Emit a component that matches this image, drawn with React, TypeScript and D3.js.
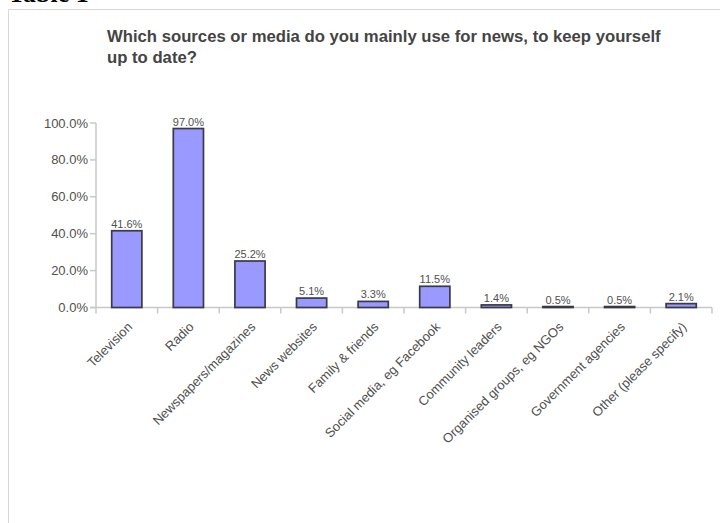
import React from "react";
import * as d3 from "d3";

const categories = [
  "Television",
  "Radio",
  "Newspapers/magazines",
  "News websites",
  "Family & friends",
  "Social media, eg Facebook",
  "Community leaders",
  "Organised groups, eg NGOs",
  "Government agencies",
  "Other (please specify)",
];
const values = [41.6, 97.0, 25.2, 5.1, 3.3, 11.5, 1.4, 0.5, 0.5, 2.1];
const yTicks = [0, 20, 40, 60, 80, 100];
const titleLines = [
  "Which sources or media do you mainly use for news, to keep yourself",
  "up to date?",
];

const W = 720;
const H = 523;
const left = 96;
const right = 712;
const top = 123;
const bottom = 307.5;

export default function App() {
  const x = d3.scaleBand<string>().domain(categories).range([left, right]).paddingInner(0).paddingOuter(0);
  const y = d3.scaleLinear().domain([0, 100]).range([bottom, top]);
  const bw = x.bandwidth() * 0.49;
  const font = "'Liberation Sans', Arial, sans-serif";

  return (
    <svg
      width={W}
      height={H}
      style={{ position: "absolute", left: 0, top: 0, background: "#fff" }}
      fontFamily={font}
    >
      <text x={8} y={2} fontFamily="'Liberation Serif', 'Times New Roman', serif" fontWeight="bold" fontSize={26} fill="#000">
        Table 1
      </text>
      <line x1={8.5} x2={720} y1={9.5} y2={9.5} stroke="#d8d8d8" strokeWidth={1} />
      <line x1={8.5} x2={8.5} y1={9.5} y2={523} stroke="#d8d8d8" strokeWidth={1} />

      {titleLines.map((t, i) => (
        <text key={i} x={107} y={42 + i * 21} fontWeight="bold" fontSize={16.7} fill="#444">
          {t}
        </text>
      ))}

      {/* y axis */}
      <line x1={left} x2={left} y1={top} y2={bottom} stroke="#c8c8c8" strokeWidth={1.5} />
      {yTicks.map((t) => (
        <g key={t}>
          <line x1={left - 6} x2={left} y1={y(t)} y2={y(t)} stroke="#c8c8c8" strokeWidth={1.5} />
          <text x={88} y={y(t)} dy="0.35em" textAnchor="end" fontSize={13} fill="#505050">
            {t.toFixed(1) + "%"}
          </text>
        </g>
      ))}

      {/* x axis */}
      <line x1={left - 6} x2={right} y1={bottom} y2={bottom} stroke="#c8c8c8" strokeWidth={1.5} />
      {[...categories.map((c) => x(c) as number), right].map((px, i) => (
        <line key={i} x1={px} x2={px} y1={bottom} y2={bottom + 6} stroke="#c8c8c8" strokeWidth={1.5} />
      ))}

      {/* bars */}
      {categories.map((c, i) => {
        const cx = (x(c) as number) + x.bandwidth() / 2;
        const yt = y(values[i]);
        return (
          <g key={c}>
            <rect
              x={cx - bw / 2}
              y={yt}
              width={bw}
              height={bottom - yt}
              fill="#9999ff"
              stroke="#3a3a46"
              strokeWidth={1.7}
            />
            <text x={cx} y={yt - 3} textAnchor="middle" fontSize={11} fill="#505050">
              {values[i].toFixed(1) + "%"}
            </text>
            <text
              transform={`translate(${cx + 3},${bottom + 17}) rotate(-45)`}
              textAnchor="end"
              dy="0.35em"
              fontSize={13}
              fill="#505050"
            >
              {c}
            </text>
          </g>
        );
      })}
    </svg>
  );
}
